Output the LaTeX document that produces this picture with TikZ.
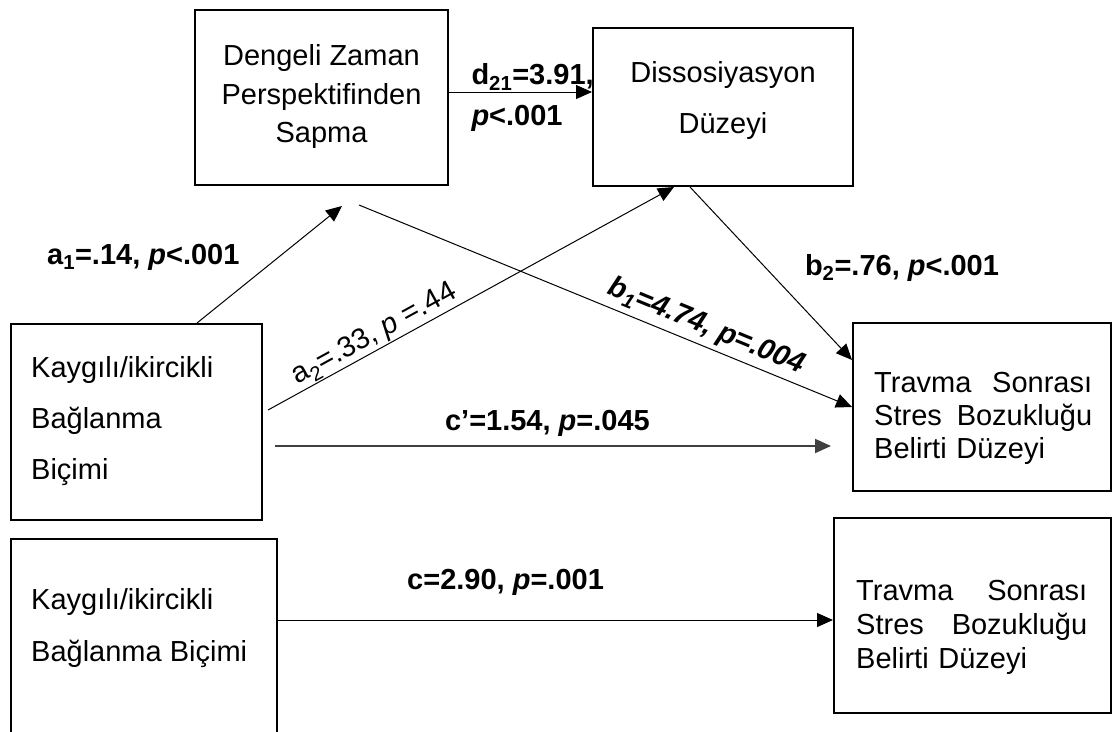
\documentclass[tikz,border=0pt]{standalone}
\usepackage{fontspec}
\setmainfont{Liberation Sans}
\usetikzlibrary{arrows.meta}

\begin{document}
\begin{tikzpicture}[x=1pt,y=-1pt,
  kutu/.style={draw=black,line width=2pt,inner sep=0pt},
  yazi/.style={inner sep=0pt,font=\fontsize{29}{38.5}\selectfont},
  etiket/.style={inner sep=0pt,font=\fontsize{29}{40}\selectfont\bfseries},
  ok/.style={line width=1pt,-{Triangle[length=16pt,width=14pt]}}]
\useasboundingbox (0,0) rectangle (1113,731);
\clip (0,0) rectangle (1113,731);
% kutular
\node[kutu,minimum width=253pt,minimum height=175pt] (dzp) at (321.5,97.5) {};
\node[kutu,minimum width=260pt,minimum height=158pt] (dis) at (723,107) {};
\node[kutu,minimum width=251pt,minimum height=196pt] (kb) at (136.5,422) {};
\node[kutu,minimum width=258pt,minimum height=168pt] (tssb) at (982,407) {};
\node[kutu,minimum width=266pt,minimum height=197pt] (kb0) at (144,637.5) {};
\node[kutu,minimum width=277pt,minimum height=195pt] (tssb0) at (972.5,615.5) {};
% kutu yazilari
\node[yazi,align=center] (dzp-y) at ([yshift=1pt]dzp.center) {Dengeli Zaman\\Perspektifinden\\Sapma};
\node[yazi,align=center,font=\fontsize{29}{51}\selectfont] (dis-y) at ([yshift=7pt]dis.center) {Dissosiyasyon\\Düzeyi};
\node[yazi,align=left,anchor=west,font=\fontsize{29}{51}\selectfont] (kb-y) at ([xshift=21pt,yshift=1pt]kb.west) {Kaygılı/ikircikli\\Bağlanma\\Biçimi};
\node[yazi,align=left,anchor=west,font=\fontsize{29}{52}\selectfont] (kb0-y) at ([xshift=21pt,yshift=9.5pt]kb0.west) {Kaygılı/ikircikli\\Bağlanma Biçimi};
\node[yazi,align=left,anchor=west,text width=218pt,font=\fontsize{29}{33}\selectfont] (tssb-y) at ([xshift=22pt,yshift=-11pt]tssb.west) {Travma\hfill Sonrası\\Stres\hfill Bozukluğu\\Belirti Düzeyi};
\node[yazi,align=left,anchor=west,text width=231pt,font=\fontsize{29}{34}\selectfont] (tssb0-y) at ([xshift=23pt,yshift=-11.5pt]tssb0.west) {Travma\hfill Sonrası\\Stres\hfill Bozukluğu\\Belirti Düzeyi};
% serbest uclar
\coordinate (a1uc) at ([xshift=20.5pt,yshift=-20pt]dzp.south);
\coordinate (b1bas) at ([xshift=37.5pt,yshift=-19pt]dzp.south);
% yollar
\draw[ok] ([yshift=5.5pt]dzp.east) -- node[etiket,pos=0,anchor=west,xshift=22pt,yshift=-5.5pt,align=left] (d21) {d\textsubscript{21}=3.91,\\\textit{p}<.001} ([yshift=5.5pt]dzp.east -| dis.west);
\draw[ok] ([xshift=60.5pt]kb.north) -- node[etiket,midway,anchor=east,xshift=-29.5pt,yshift=7.5pt] (a1) {a\textsubscript{1}=.14, \textit{p}<.001} (a1uc);
\draw[ok] ([xshift=5pt,yshift=12pt]kb.east) -- node[yazi,sloped,pos=.28,above=1pt] (a2) {a\textsubscript{2}=.33, \textit{p} =.44} ([xshift=-49pt]dis.south);
\draw[ok] (b1bas) -- node[etiket,sloped,pos=.69,above=5pt] (b1) {\textit{b\textsubscript{1}=4.74, p=.004}} (tssb.west);
\draw[ok] ([xshift=-33pt]dis.south) -- node[etiket,midway,anchor=west,xshift=33.5pt,yshift=6pt] (b2) {b\textsubscript{2}=.76, \textit{p}<.001} ([yshift=47pt]tssb.west);
\draw[ok,line width=2pt,draw=black!75] ([xshift=12pt,yshift=-24pt]kb.east) -- node[etiket,pos=.49,above=8pt] (c1) {c’=1.54, \textit{p}=.045} ([xshift=-21pt,yshift=-39pt]tssb.west);
\draw[ok] ([yshift=17.5pt]kb0.east) -- node[etiket,pos=.41,above=24pt] (c0) {c=2.90, \textit{p}=.001} ([yshift=17.5pt]kb0.east -| tssb0.west);
\end{tikzpicture}
\end{document}
